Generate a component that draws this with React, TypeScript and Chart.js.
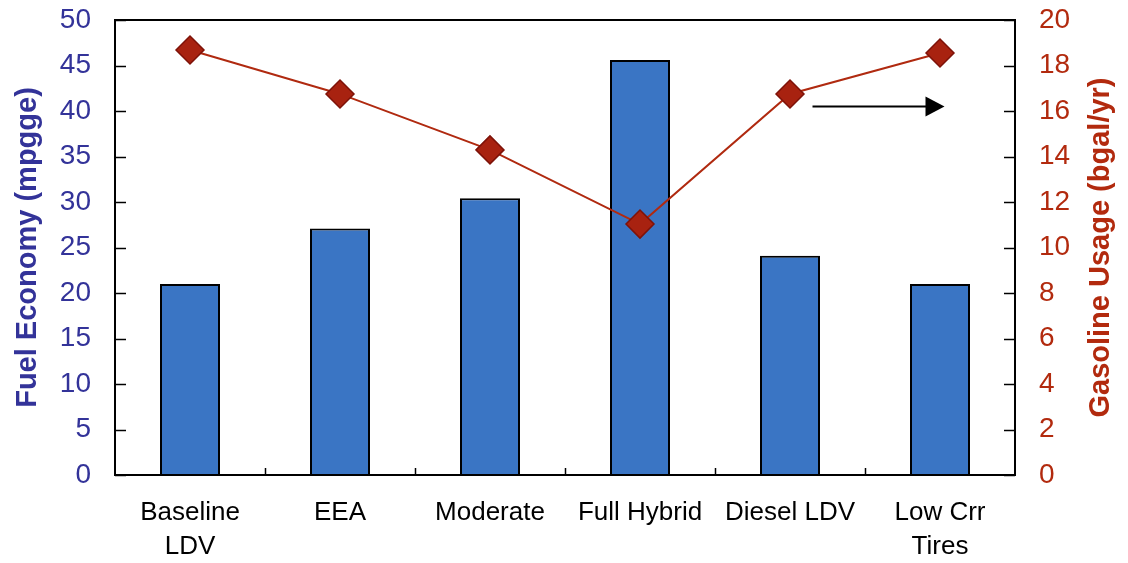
import React, { useEffect, useRef } from "react";
import { Chart, registerables } from "chart.js";

Chart.register(...registerables);

const categories: (string | string[])[] = [
  ["Baseline", "LDV"],
  "EEA",
  "Moderate",
  "Full Hybrid",
  "Diesel LDV",
  ["Low Crr", "Tires"],
];
const fuelEconomy = [21.0, 27.1, 30.4, 45.6, 24.1, 21.0];
const gasolineUsage = [18.68, 16.75, 14.29, 11.03, 16.75, 18.55];

const leftTitle = "Fuel Economy (mpgge)";
const rightTitle = "Gasoline Usage (bgal/yr)";

// arrow annotation (category index along x, right-axis value along y)
const arrowFrom = 4.15;
const arrowTo = 5.03;
const arrowY = 16.2;

const BLUE_TEXT = "#333399";
const RED_TEXT = "#B22A0E";
const FONT = "'Liberation Sans', Arial, sans-serif";

const decorPlugin = {
  id: "decor",
  afterDraw(chart: any) {
    const ctx = chart.ctx;
    const { left, right, top, bottom } = chart.chartArea;
    const y = chart.scales.y;
    const y1 = chart.scales.y1;
    const x = chart.scales.x;
    ctx.save();
    ctx.strokeStyle = "#000";
    ctx.lineWidth = 1.5;
    // inward ticks
    y.ticks.forEach((t: any) => {
      const py = Math.round(y.getPixelForValue(t.value)) + 0.5;
      ctx.beginPath();
      ctx.moveTo(left, py);
      ctx.lineTo(left + 11, py);
      ctx.stroke();
    });
    y1.ticks.forEach((t: any) => {
      const py = Math.round(y1.getPixelForValue(t.value)) + 0.5;
      ctx.beginPath();
      ctx.moveTo(right, py);
      ctx.lineTo(right - 11, py);
      ctx.stroke();
    });
    for (let i = 1; i < categories.length; i++) {
      const px = Math.round(x.getPixelForValue(i - 0.5)) + 0.5;
      ctx.beginPath();
      ctx.moveTo(px, bottom);
      ctx.lineTo(px, bottom - 7);
      ctx.stroke();
    }
    // frame
    ctx.lineWidth = 2;
    ctx.strokeRect(left, top, right - left, bottom - top);

    // arrow
    const ax0 = x.getPixelForValue(arrowFrom);
    const ax1 = x.getPixelForValue(arrowTo);
    const ay = y1.getPixelForValue(arrowY);
    ctx.lineWidth = 2;
    ctx.beginPath();
    ctx.moveTo(ax0, ay);
    ctx.lineTo(ax1 - 18, ay);
    ctx.stroke();
    ctx.fillStyle = "#000";
    ctx.beginPath();
    ctx.moveTo(ax1, ay);
    ctx.lineTo(ax1 - 19, ay - 10);
    ctx.lineTo(ax1 - 19, ay + 10);
    ctx.closePath();
    ctx.fill();

    // axis titles
    const cy = (top + bottom) / 2;
    ctx.font = `bold 29px ${FONT}`;
    ctx.textAlign = "center";
    ctx.textBaseline = "middle";
    ctx.fillStyle = BLUE_TEXT;
    ctx.save();
    ctx.translate(28, cy);
    ctx.rotate(-Math.PI / 2);
    ctx.fillText(leftTitle, 0, 0);
    ctx.restore();
    ctx.fillStyle = RED_TEXT;
    ctx.save();
    ctx.translate(1101, cy);
    ctx.rotate(-Math.PI / 2);
    ctx.fillText(rightTitle, 0, 0);
    ctx.restore();
    ctx.restore();
  },
};

export default function App() {
  const ref = useRef<HTMLCanvasElement>(null);
  useEffect(() => {
    if (!ref.current) return;
    const chart = new Chart(ref.current, {
      type: "bar",
      data: {
        labels: categories as any,
        datasets: [
          {
            type: "line",
            label: "Gasoline Usage",
            data: gasolineUsage,
            yAxisID: "y1",
            order: 0,
            borderColor: "#B02A10",
            borderWidth: 2,
            pointStyle: "rectRot",
            pointRadius: 14,
            pointBackgroundColor: "#A82210",
            pointBorderColor: "#7E1208",
            pointBorderWidth: 1.5,
            tension: 0,
          } as any,
          {
            type: "bar",
            label: "Fuel Economy",
            data: fuelEconomy,
            yAxisID: "y",
            order: 1,
            backgroundColor: "#3A75C4",
            borderColor: "#000",
            borderWidth: 2,
            borderSkipped: "bottom",
            barPercentage: 0.4,
            categoryPercentage: 1,
          } as any,
        ],
      },
      options: {
        responsive: false,
        animation: false,
        layout: { padding: { top: 20, left: 0, right: 0, bottom: 0 } },
        plugins: { legend: { display: false }, tooltip: { enabled: false } },
        scales: {
          x: {
            offset: true,
            grid: { display: false, drawTicks: false },
            border: { display: true, color: "#000", width: 2 },
            ticks: {
              color: "#000",
              font: { family: FONT, size: 26, lineHeight: "34px" } as any,
              padding: 21,
              maxRotation: 0,
              autoSkip: false,
            },
            afterFit: (s: any) => {
              s.height = 88;
              s.paddingLeft = 0;
              s.paddingRight = 0;
            },
          },
          y: {
            position: "left",
            min: 0,
            max: 50,
            grid: { display: false, drawTicks: false },
            border: { display: true, color: "#000", width: 2 },
            ticks: {
              stepSize: 5,
              color: BLUE_TEXT,
              font: { family: FONT, size: 28 },
              padding: 24,
            },
            afterFit: (s: any) => {
              s.width = 115;
              s.paddingTop = 0;
              s.paddingBottom = 0;
            },
          },
          y1: {
            position: "right",
            min: 0,
            max: 20,
            grid: { display: false, drawTicks: false },
            border: { display: true, color: "#000", width: 2 },
            ticks: {
              stepSize: 2,
              color: RED_TEXT,
              font: { family: FONT, size: 28 },
              padding: 24,
            },
            afterFit: (s: any) => {
              s.width = 113;
              s.paddingTop = 0;
              s.paddingBottom = 0;
            },
          },
        },
      },
      plugins: [decorPlugin],
    });
    return () => chart.destroy();
  }, []);
  return (
    <div style={{ position: "fixed", left: 0, top: 0, width: 1128, height: 563, background: "#fff" }}>
      <canvas ref={ref} width={1128} height={563} style={{ display: "block" }} />
    </div>
  );
}
